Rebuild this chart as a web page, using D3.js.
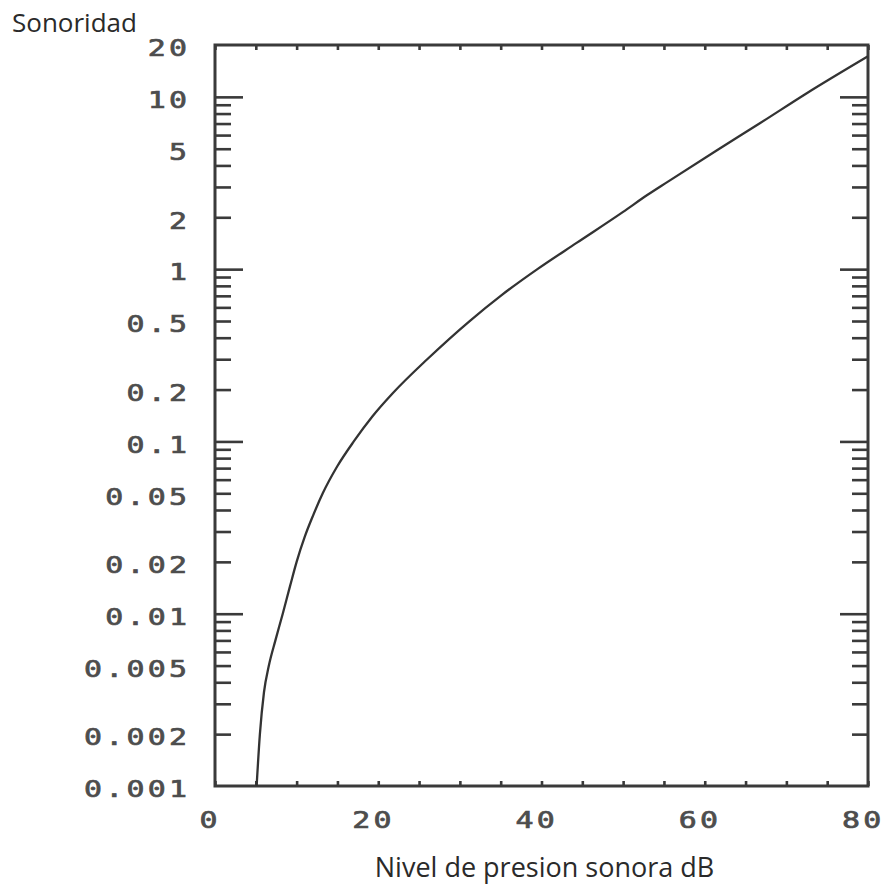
<!DOCTYPE html>
<html>
<head>
<meta charset="utf-8">
<script src="https://cdn.jsdelivr.net/npm/d3@7"></script>
<style>
  html, body { margin: 0; padding: 0; background: #fff; }
  svg { display: block; }
</style>
</head>
<body>
<script>
// ---- data ----
const levelDb  = [5.1, 5.5, 6.0, 6.6, 7.4, 8.3, 9.2, 10.0, 11.0, 12.0, 13.2, 15.0, 17.0, 19.3, 21.8, 26.0, 31.2, 35.0, 39.5, 44.3, 50.0, 53.0, 55.4, 61.5, 66.8, 72.5, 80.0];
const loudness = [0.001, 0.002, 0.0035, 0.005, 0.007, 0.010, 0.0145, 0.020, 0.028, 0.037, 0.050, 0.072, 0.100, 0.140, 0.191, 0.30, 0.50, 0.70, 1.00, 1.42, 2.15, 2.70, 3.20, 4.90, 7.05, 10.5, 17.2];
const yTickLabels = [20, 10, 5, 2, 1, 0.5, 0.2, 0.1, 0.05, 0.02, 0.01, 0.005, 0.002, 0.001];
const yMajorTicks = [10, 1, 0.1, 0.01];
const yMinorTicks = [];
[0.001, 0.01, 0.1, 1].forEach(dec => { for (let k = 2; k <= 9; k++) yMinorTicks.push(+(k * dec).toPrecision(3)); });
const xTicks = [0, 5, 10, 15, 20, 25, 30, 35, 40, 45, 50, 55, 60, 65, 70, 75, 80];
const xTickLabels = [0, 20, 40, 60, 80];
const yTitle = "Sonoridad";
const xTitle = "Nivel de presion sonora dB";

// ---- layout ----
const W = 884, H = 886;
const pL = 215, pR = 868, pT = 45, pB = 786;

const svg = d3.select("body").append("svg").attr("width", W).attr("height", H);

const x = d3.scaleLinear().domain([0, 80]).range([pL, pR]);
const y = d3.scaleLog().domain([0.001, 20]).range([pB, pT]);

const frameColor = "#3a3a3a";
const labelFont = "'DejaVu Sans Mono', monospace";
const labelColor = "#4d4d4d";
const sx = 1.3;   // horizontal stretch of the plotter-style tick labels
const ls = 2.5;   // letter spacing (unscaled units)

function styleAxis(g) {
  g.select(".domain").remove();
  g.selectAll(".tick line").attr("stroke", frameColor).attr("stroke-width", 2.6);
}
function styleLabels(sel) {
  sel.attr("font-family", labelFont).attr("font-size", 23).attr("fill", labelColor)
    .attr("stroke", labelColor).attr("stroke-width", 0.7)
    .attr("letter-spacing", ls).attr("transform", `scale(${sx},1)`);
}

// left: major + minor + labels
const gL = svg.append("g").attr("transform", `translate(${pL},0)`);
gL.append("g").call(d3.axisLeft(y).tickValues(yMajorTicks).tickSize(-28).tickFormat("")).call(styleAxis);
gL.append("g").call(d3.axisLeft(y).tickValues(yMinorTicks).tickSize(-16).tickFormat("")).call(styleAxis);
const gLbl = gL.append("g").call(d3.axisLeft(y).tickValues(yTickLabels).tickSize(0).tickFormat(d => String(d)));
gLbl.select(".domain").remove();
gLbl.selectAll("text").call(styleLabels)
  .attr("x", -28 / sx + ls).attr("dy", "0.47em");

// right
const gR = svg.append("g").attr("transform", `translate(${pR},0)`);
gR.append("g").call(d3.axisRight(y).tickValues(yMajorTicks).tickSize(-28).tickFormat("")).call(styleAxis);
gR.append("g").call(d3.axisRight(y).tickValues(yMinorTicks).tickSize(-16).tickFormat("")).call(styleAxis);

// bottom
const gB = svg.append("g").attr("transform", `translate(0,${pB})`);
gB.call(d3.axisBottom(x).tickValues(xTicks).tickSize(-5).tickPadding(26)
  .tickFormat(d => xTickLabels.includes(d) ? String(d) : ""));
styleAxis(gB);
gB.selectAll("text").call(styleLabels).attr("x", -7 / sx + ls / 2);

// top
const gT = svg.append("g").attr("transform", `translate(0,${pT})`);
gT.call(d3.axisTop(x).tickValues(xTicks).tickSize(-5).tickFormat(""));
styleAxis(gT);

// frame
svg.append("rect")
  .attr("x", pL).attr("y", pT)
  .attr("width", pR - pL).attr("height", pB - pT)
  .attr("fill", "none").attr("stroke", frameColor).attr("stroke-width", 3);

// curve
const pts = levelDb.map((d, i) => [d, loudness[i]]);
const line = d3.line().x(d => x(d[0])).y(d => y(d[1])).curve(d3.curveMonotoneX);
svg.append("path").datum(pts)
  .attr("d", line)
  .attr("fill", "none").attr("stroke", "#333").attr("stroke-width", 2.3);

// titles
svg.append("text").attr("x", 12).attr("y", 32)
  .attr("font-family", "'Open Sans', sans-serif").attr("font-size", 26).attr("fill", "#2a2a2a")
  .text(yTitle);
svg.append("text").attr("x", (pL + pR) / 2 + 3).attr("y", 877)
  .attr("text-anchor", "middle")
  .attr("font-family", "'Open Sans', sans-serif").attr("font-size", 27).attr("fill", "#2a2a2a")
  .text(xTitle);
</script>
</body>
</html>
